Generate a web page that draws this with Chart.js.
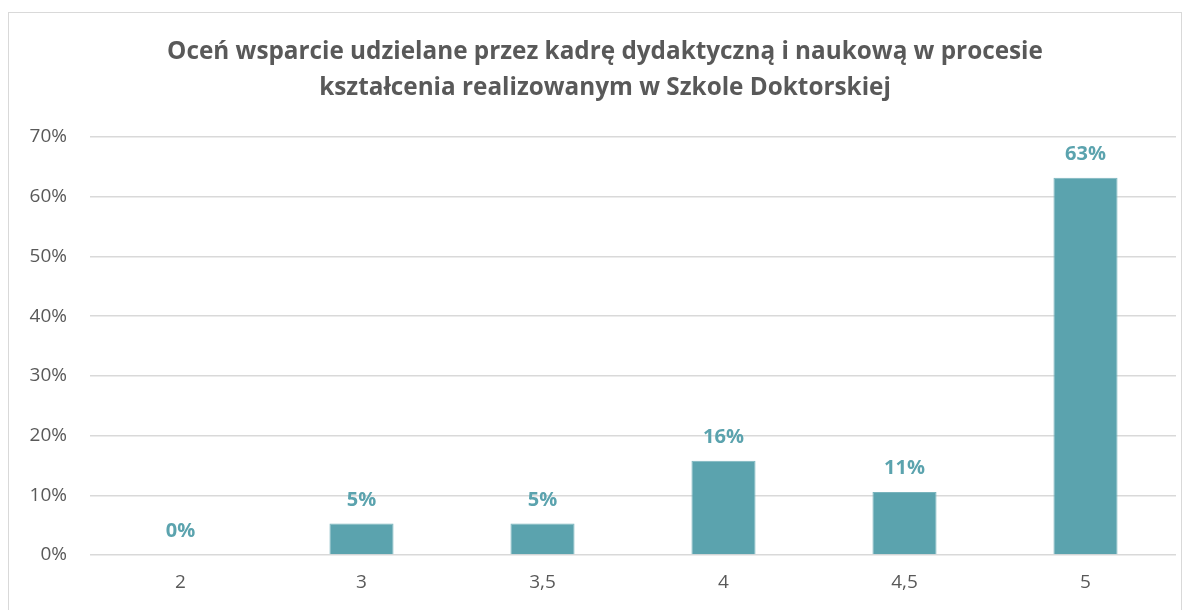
<!DOCTYPE html>
<html>
<head>
<meta charset="utf-8">
<script src="https://cdn.jsdelivr.net/npm/chart.js@4.4.1/dist/chart.umd.min.js"></script>
<style>
  html, body { margin: 0; padding: 0; background: #fff; }
  #frame { position: absolute; left: 8px; top: 12px; width: 1174px; height: 620px; border: 1.5px solid #d9d9d9; box-sizing: border-box; }
  #wrap { position: absolute; left: 0; top: 0; width: 1192px; height: 610px; }
</style>
</head>
<body>
<div id="frame"></div>
<div id="wrap"><canvas id="c" width="1192" height="610"></canvas></div>
<script>
const categories = ['2', '3', '3,5', '4', '4,5', '5'];
const values = [0, 5.26, 5.26, 15.79, 10.53, 63.16];
const yTicks = [0, 10, 20, 30, 40, 50, 60, 70];
const titleLines = ['Oceń wsparcie udzielane przez kadrę dydaktyczną i naukową w procesie', 'kształcenia realizowanym w Szkole Doktorskiej'];

const FONT = '"Open Sans", "Noto Sans", sans-serif';

const valueLabels = {
  id: 'valueLabels',
  afterDatasetsDraw(chart) {
    const ctx = chart.ctx;
    const meta = chart.getDatasetMeta(0);
    ctx.save();
    ctx.font = 'bold 20px ' + FONT;
    ctx.fillStyle = '#5BA3AE';
    ctx.textAlign = 'center';
    ctx.textBaseline = 'alphabetic';
    meta.data.forEach((bar, i) => {
      ctx.fillText(Math.round(values[i]) + '%', bar.x, bar.y - 18);
    });
    ctx.restore();
  }
};

const shiftTitle = {
  id: 'shiftTitle',
  afterLayout(chart) {
    const t = chart.titleBlock;
    if (t) { t.left += 17; t.right += 17; }
  }
};

new Chart(document.getElementById('c'), {
  type: 'bar',
  data: {
    labels: categories,
    datasets: [{
      data: values,
      backgroundColor: '#5BA3AE',
      borderColor: '#79b4bd',
      borderWidth: 1,
      categoryPercentage: 1,
      barPercentage: 0.354
    }]
  },
  options: {
    responsive: false,
    animation: false,
    layout: { padding: { top: 0, right: 16, bottom: 0, left: 0 } },
    plugins: {
      legend: { display: false },
      tooltip: { enabled: false },
      title: {
        display: true,
        text: titleLines,
        color: '#595959',
        font: { family: FONT, size: 24.3, weight: 'bold', lineHeight: '36px' },
        padding: { top: 34, bottom: 31 }
      }
    },
    scales: {
      x: {
        grid: { display: false, drawTicks: false },
        border: { display: false },
        ticks: { color: '#595959', font: { family: FONT, size: 19 }, padding: 16 },
        afterFit(s) { s.height = 55; }
      },
      y: {
        min: 0,
        max: 70,
        afterBuildTicks(s) { s.ticks = yTicks.map(v => ({ value: v })); },
        grid: { color: '#d9d9d9', lineWidth: 1.5, drawTicks: false },
        border: { display: false },
        ticks: { color: '#595959', font: { family: FONT, size: 19 }, padding: 23, callback: v => v + '%' },
        afterFit(s) { s.width = 90; }
      }
    }
  },
  plugins: [valueLabels, shiftTitle]
});
</script>
</body>
</html>
